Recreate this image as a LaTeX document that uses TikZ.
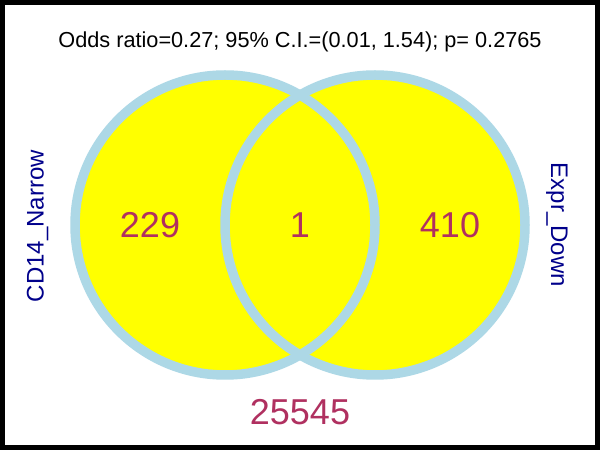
\documentclass[tikz,border=0pt]{standalone}
\usepackage{fontspec}
\setmainfont{Liberation Sans}
\definecolor{vfill}{HTML}{FFFF00}
\definecolor{vline}{HTML}{ADD8E6}
\definecolor{vnum}{HTML}{B03060}
\definecolor{vlab}{HTML}{00008B}
\begin{document}
\begin{tikzpicture}[x=1pt,y=1pt,
  txt/.style={inner sep=0pt, anchor=base},
  title/.style={txt, font=\fontsize{21.7}{26}\selectfont, text=black},
  count/.style={txt, font=\fontsize{36}{42}\selectfont, text=vnum},
  setlab/.style={txt, font=\fontsize{24}{28}\selectfont, text=vlab},
  ring/.style={draw=vline, line width=9.5pt}]
\useasboundingbox (0,0) rectangle (600,450);
\fill[black] (0,0) rectangle (600,450);
\fill[white] (5,5) rectangle (595,445);
\coordinate (cA) at (225,225);
\coordinate (cB) at (375,225);
\fill[vfill] (cA) circle[radius=150pt];
\fill[vfill] (cB) circle[radius=150pt];
\draw[ring] (cA) circle[radius=150pt];
\draw[ring] (cB) circle[radius=150pt];
\node[title] (t) at (300,402.5) {Odds ratio=0.27; 95\% C.I.=(0.01, 1.54); p= 0.2765};
\node[count] (nA) at (150,212) {229};
\node[count] (nAB) at (300,212) {1};
\node[count] (nB) at (450,212) {410};
\node[count] (nO) at (300,25) {25545};
\node[setlab, rotate=90] (lA) at (43.5,224) {CD14\_Narrow};
\node[setlab, rotate=-90] (lB) at (551,225) {Expr\_Down};
\end{tikzpicture}
\end{document}
